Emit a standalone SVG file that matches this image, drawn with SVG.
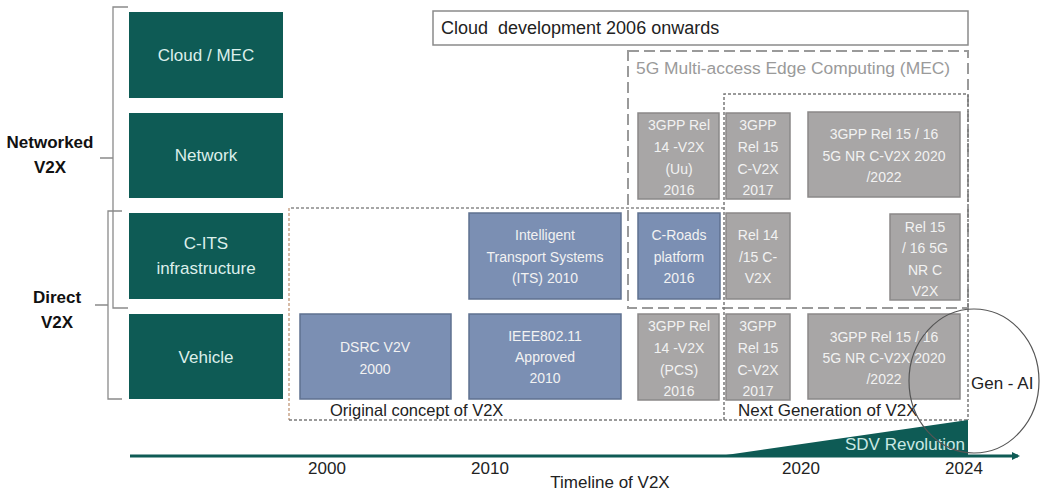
<svg xmlns="http://www.w3.org/2000/svg" width="1054" height="492" viewBox="0 0 1054 492">
<style>
text{font-family:"Liberation Sans",Arial,sans-serif}
.cat{fill:#0e5b55}
.catt{fill:#dcefeb;font-size:17px;text-anchor:middle}
.blue{fill:#7b8fb3;stroke:#5f7190;stroke-width:1.5}
.gray{fill:#a8a6a6;stroke:#8a8888;stroke-width:1.5}
.bt{fill:#f2f2f2;font-size:14px;text-anchor:middle}
.lbl{fill:#222;font-size:17px}
.grp{fill:#111;font-size:17px;font-weight:bold;text-anchor:middle}
.yr{fill:#222;font-size:17px;text-anchor:middle}
.br{fill:none;stroke:#8a8a8a;stroke-width:1.3}
</style>
<defs>
<marker id="ah" markerWidth="8" markerHeight="8" refX="6" refY="4" orient="auto" markerUnits="userSpaceOnUse">
<path d="M0,0 L8,4 L0,8 z" fill="#0e5b55"/>
</marker>
</defs>

<!-- group labels and brackets -->
<g id="networked">
<text class="grp" x="50" y="148">Networked</text>
<text class="grp" x="50" y="173">V2X</text>
<path class="br" d="M128,7 H113 V308 H128 M113,158 H100"/>
</g>
<g id="direct">
<text class="grp" x="57" y="303">Direct</text>
<text class="grp" x="57" y="328">V2X</text>
<path class="br" d="M122,211 H108 V399 H122 M108,305 H95"/>
</g>

<!-- category boxes -->
<g id="cloud"><rect class="cat" x="129" y="12" width="154" height="86"/><text class="catt" x="206" y="61">Cloud / MEC</text></g>
<g id="network"><rect class="cat" x="129" y="113" width="154" height="85"/><text class="catt" x="206" y="161">Network</text></g>
<g id="cits"><rect class="cat" x="129" y="213" width="154" height="86"/><text class="catt" x="206" y="249">C-ITS</text><text class="catt" x="206" y="274">infrastructure</text></g>
<g id="vehicle"><rect class="cat" x="129" y="314" width="154" height="85"/><text class="catt" x="206" y="363">Vehicle</text></g>

<!-- cloud development -->
<g id="clouddev">
<rect x="433" y="11" width="535" height="34" fill="none" stroke="#8a8a8a" stroke-width="1.5"/>
<text class="lbl" x="441" y="34" font-size="18" style="white-space:pre;font-size:18px" xml:space="preserve">Cloud  development 2006 onwards</text>
</g>

<!-- region frames -->
<g id="frames">
<rect x="628" y="51" width="340" height="257" fill="none" stroke="#9a9a9a" stroke-width="2" stroke-dasharray="11 5"/>
<text x="636" y="74" fill="#9a9a9a" font-size="17.4">5G Multi-access Edge Computing (MEC)</text>
<path d="M724,420 V94 H968 V420" fill="none" stroke="#7a7a7a" stroke-width="1.5" stroke-dasharray="3 2"/>
<path d="M724,208 H289" fill="none" stroke="#8a8a8a" stroke-width="1.5" stroke-dasharray="3 2"/>
<path d="M289,208 V420" fill="none" stroke="#c9a58a" stroke-width="1.5" stroke-dasharray="3 2"/>
<path d="M289,420 H968" fill="none" stroke="#7a7a7a" stroke-width="1.5" stroke-dasharray="3 2"/>
<text class="lbl" x="330" y="416" style="font-size:16.5px">Original concept of V2X</text>
<text class="lbl" x="738" y="416">Next Generation of V2X</text>
</g>

<!-- blue boxes -->
<g id="dsrc"><rect class="blue" x="300" y="314" width="151" height="85"/><text class="bt" x="375" y="352">DSRC V2V</text><text class="bt" x="375" y="374">2000</text></g>
<g id="ieee"><rect class="blue" x="469" y="314" width="152" height="85"/><text class="bt" x="545" y="341">IEEE802.11</text><text class="bt" x="545" y="362">Approved</text><text class="bt" x="545" y="383">2010</text></g>
<g id="its"><rect class="blue" x="469" y="213" width="152" height="86"/><text class="bt" x="545" y="240">Intelligent</text><text class="bt" x="545" y="262">Transport Systems</text><text class="bt" x="545" y="283">(ITS) 2010</text></g>
<g id="croads"><rect class="blue" x="638" y="213" width="82" height="86"/><text class="bt" x="679" y="240">C-Roads</text><text class="bt" x="679" y="262">platform</text><text class="bt" x="679" y="283">2016</text></g>

<!-- gray boxes network row -->
<g id="rel14uu"><rect class="gray" x="638" y="113" width="81" height="86"/><text class="bt" x="679" y="130">3GPP Rel</text><text class="bt" x="679" y="152">14 -V2X</text><text class="bt" x="679" y="174">(Uu)</text><text class="bt" x="679" y="195">2016</text></g>
<g id="rel15net"><rect class="gray" x="726" y="113" width="64" height="86"/><text class="bt" x="758" y="130">3GPP</text><text class="bt" x="758" y="152">Rel 15</text><text class="bt" x="758" y="174">C-V2X</text><text class="bt" x="758" y="195">2017</text></g>
<g id="rel1516net"><rect class="gray" x="808" y="112" width="152" height="85"/><text class="bt" x="884" y="139">3GPP Rel 15 / 16</text><text class="bt" x="884" y="161">5G NR C-V2X 2020</text><text class="bt" x="884" y="182">/2022</text></g>

<!-- gray boxes C-ITS row -->
<g id="rel1415cits"><rect class="gray" x="726" y="213" width="64" height="86"/><text class="bt" x="758" y="240">Rel 14</text><text class="bt" x="758" y="262">/15 C-</text><text class="bt" x="758" y="283">V2X</text></g>
<g id="rel1516cits"><rect class="gray" x="890" y="214" width="70" height="86"/><text class="bt" x="925" y="232">Rel 15</text><text class="bt" x="925" y="253">/ 16 5G</text><text class="bt" x="925" y="275">NR C</text><text class="bt" x="925" y="296">V2X</text></g>

<!-- gray boxes vehicle row -->
<g id="rel14pcs"><rect class="gray" x="638" y="314" width="81" height="86"/><text class="bt" x="679" y="331">3GPP Rel</text><text class="bt" x="679" y="353">14 -V2X</text><text class="bt" x="679" y="375">(PCS)</text><text class="bt" x="679" y="396">2016</text></g>
<g id="rel15veh"><rect class="gray" x="726" y="314" width="64" height="86"/><text class="bt" x="758" y="331">3GPP</text><text class="bt" x="758" y="353">Rel 15</text><text class="bt" x="758" y="375">C-V2X</text><text class="bt" x="758" y="396">2017</text></g>
<g id="rel1516veh"><rect class="gray" x="808" y="314" width="152" height="85"/><text class="bt" x="884" y="342">3GPP Rel 15 / 16</text><text class="bt" x="884" y="363">5G NR C-V2X 2020</text><text class="bt" x="884" y="384">/2022</text></g>

<!-- SDV and Gen AI -->
<g id="sdv">
<path d="M726,455 L968,420 L968,455 z" fill="#0e5b55"/>
<text x="845" y="450" fill="#c9e8e3" font-size="17">SDV Revolution</text>
</g>
<g id="genai">
<ellipse cx="974" cy="381" rx="65" ry="72" fill="none" stroke="#555" stroke-width="1.2"/>
<text x="971" y="389" fill="#222" font-size="17">Gen - AI</text>
</g>

<!-- timeline -->
<g id="connectors">
<line x1="130" y1="456" x2="1018" y2="456" stroke="#0e5b55" stroke-width="3" marker-end="url(#ah)"/>
</g>
<g id="timeline">
<text class="yr" x="327" y="474">2000</text>
<text class="yr" x="490" y="474">2010</text>
<text class="yr" x="801" y="474">2020</text>
<text class="yr" x="964" y="474">2024</text>
<text class="yr" x="610" y="488">Timeline of V2X</text>
</g>
</svg>
